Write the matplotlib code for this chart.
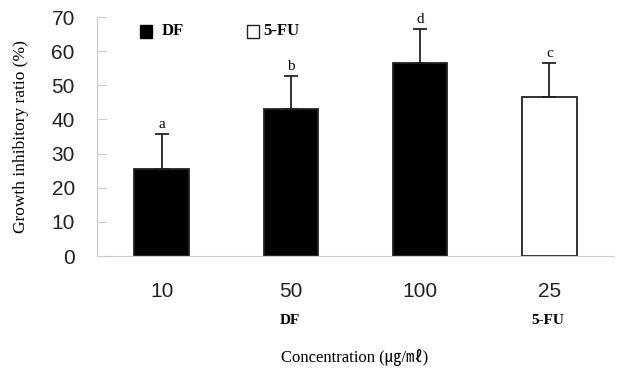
import matplotlib.pyplot as plt
import matplotlib.patches as patches

# data
groups = ['10', '50', '100', '25']
values = [25.5, 43.2, 56.6, 46.7]
errors = [10.2, 9.5, 9.9, 9.7]
letters = ['a', 'b', 'd', 'c']
colors = ['black', 'black', 'black', 'white']

fig = plt.figure(figsize=(6.19, 3.70), dpi=100)
ax = fig.add_axes([97 / 619, 1 - 256 / 370, 517 / 619, 239 / 370])

x = list(range(len(groups)))
ax.bar(x, values, width=0.42, color=colors, edgecolor='#222222', linewidth=1.3, zorder=2)
ax.errorbar(x, values, yerr=[[0] * len(errors), errors], fmt='none', ecolor='#222222',
            elinewidth=1.3, capsize=5, capthick=1.3, zorder=3)

# huruf signifikansi
for xi, v, e, t in zip(x, values, errors, letters):
    ax.text(xi, v + e + 1.0, t, ha='center', va='bottom', fontsize=11,
            family='Liberation Serif')

ax.set_xlim(-0.5, 3.5)
ax.set_ylim(0, 70)
ax.set_yticks(range(0, 71, 10))
ax.set_xticks(x)
ax.set_xticklabels(groups, family='Liberation Sans', fontsize=15, color='#222222')
ax.tick_params(axis='y', direction='in', length=7, color='#cccccc', labelsize=15, pad=16,
               labelcolor='#222222')
ax.tick_params(axis='x', length=0, pad=19)
for t in ax.get_yticklabels():
    t.set_family('Liberation Sans')

for s in ['top', 'right']:
    ax.spines[s].set_visible(False)
ax.spines['left'].set_color('#cccccc')
ax.spines['bottom'].set_color('#cccccc')

ax.set_ylabel('Growth inhibitory ratio (%)', family='Liberation Serif', fontsize=12.5, labelpad=16)

# label grup di bawah tick
fig.text(290 / 619, 1 - 321 / 370, 'DF', ha='center', va='center', fontsize=11,
         fontweight='bold', family='Liberation Serif')
fig.text(548 / 619, 1 - 321 / 370, '5-FU', ha='center', va='center', fontsize=11,
         fontweight='bold', family='Liberation Serif')
fig.text(355 / 619, 1 - 357 / 370, 'Concentration (\u338d/\u3396)', ha='center', va='center',
         fontsize=12, family=['Liberation Serif', 'Noto Sans CJK KR'])

# legenda
fig.patches.append(patches.Rectangle((140 / 619, 1 - 38 / 370), 12 / 619, 13 / 370,
                                     transform=fig.transFigure, facecolor='black',
                                     edgecolor='black', linewidth=1))
fig.text(162 / 619, 1 - 31 / 370, 'DF', ha='left', va='center', fontsize=12,
         fontweight='bold', family='Liberation Serif')
fig.patches.append(patches.Rectangle((247 / 619, 1 - 38 / 370), 12 / 619, 13 / 370,
                                     transform=fig.transFigure, facecolor='white',
                                     edgecolor='#222222', linewidth=1))
fig.text(263 / 619, 1 - 31 / 370, '5-FU', ha='left', va='center', fontsize=12,
         fontweight='bold', family='Liberation Serif')

fig.savefig('out.png', dpi=100)
